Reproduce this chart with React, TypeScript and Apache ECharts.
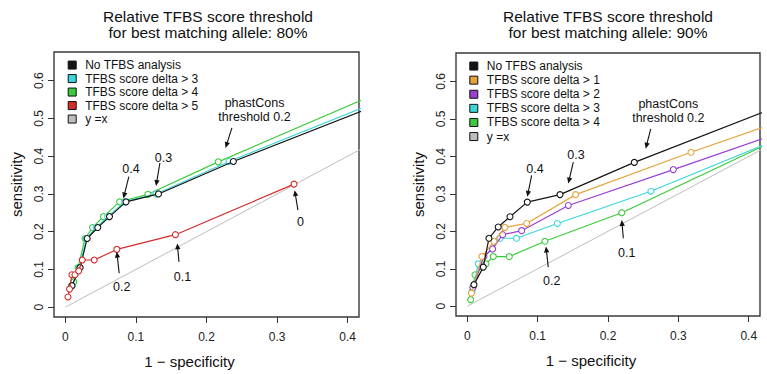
import { useEffect, useRef } from "react";
import * as echarts from "echarts";

type Pt = [number, number];

const FONT = "'Liberation Sans', Arial, Helvetica, sans-serif";

// Axis ticks shared by both panels
const X_TICKS = [0, 0.1, 0.2, 0.3, 0.4];
const Y_TICKS = [0, 0.1, 0.2, 0.3, 0.4, 0.5, 0.6];

const TITLE_80 = "Relative TFBS score threshold\nfor best matching allele: 80%";
const TITLE_90 = "Relative TFBS score threshold\nfor best matching allele: 90%";
const X_NAME = "1 \u2212 specificity";
const Y_NAME = "sensitivity";

// Series names
const S_NONE = "No TFBS analysis";
const S_D1 = "TFBS score delta > 1";
const S_D2 = "TFBS score delta > 2";
const S_D3 = "TFBS score delta > 3";
const S_D4 = "TFBS score delta > 4";
const S_D5 = "TFBS score delta > 5";
const S_DIAG = "y =x";

const COLORS: Record<string, string> = {
  [S_NONE]: "#151515",
  [S_D1]: "#e6a33c",
  [S_D2]: "#9b3fd2",
  [S_D3]: "#3ad6dc",
  [S_D4]: "#3ccb3c",
  [S_D5]: "#d42b2b",
  [S_DIAG]: "#bdbdbd",
};

// Panel 1: best matching allele threshold 80% — [1 - specificity, sensitivity]
const p80None: Pt[] = [
  [0.0094, 0.057], [0.021, 0.105], [0.031, 0.182], [0.046, 0.211], [0.0626, 0.24],
  [0.086, 0.279], [0.132, 0.3], [0.238, 0.386], [0.5, 0.578],
];
const p80Delta3: Pt[] = [
  [0.0094, 0.057], [0.02, 0.105], [0.03, 0.182], [0.044, 0.211], [0.06, 0.24],
  [0.084, 0.279], [0.1285, 0.3], [0.232, 0.386], [0.5, 0.588],
];
const p80Delta4: Pt[] = [
  [0.0094, 0.056], [0.012, 0.067], [0.018, 0.105], [0.028, 0.182], [0.0386, 0.211],
  [0.054, 0.24], [0.077, 0.279], [0.117, 0.299], [0.2166, 0.385], [0.5, 0.613],
];
const p80Delta5: Pt[] = [
  [0.0038, 0.027], [0.006, 0.048], [0.0094, 0.086], [0.0137, 0.086], [0.019, 0.096],
  [0.024, 0.125], [0.041, 0.125], [0.073, 0.153], [0.156, 0.192], [0.324, 0.326],
];

// Panel 2: best matching allele threshold 90%
const p90None: Pt[] = [
  [0.0095, 0.0576], [0.0228, 0.1045], [0.0308, 0.1815], [0.044, 0.2116], [0.0607, 0.239],
  [0.0853, 0.278], [0.1318, 0.298], [0.2374, 0.384], [0.5, 0.576],
];
const p90Delta1: Pt[] = [
  [0.006, 0.035], [0.0209, 0.1327], [0.038, 0.1735], [0.0536, 0.2107], [0.0844, 0.221],
  [0.154, 0.298], [0.318, 0.411], [0.5, 0.53],
];
const p90Delta2: Pt[] = [
  [0.008, 0.05], [0.0237, 0.1327], [0.036, 0.153], [0.0503, 0.191], [0.0773, 0.2018],
  [0.1436, 0.269], [0.2928, 0.3648], [0.5, 0.5],
];
const p90Delta3: Pt[] = [
  [0.007, 0.04], [0.0157, 0.1133], [0.0465, 0.1815], [0.07, 0.1815], [0.128, 0.221],
  [0.261, 0.307], [0.5, 0.491],
];
const p90Delta4: Pt[] = [
  [0.0048, 0.0178], [0.0085, 0.053], [0.011, 0.084], [0.0266, 0.1133], [0.037, 0.1327],
  [0.0597, 0.1327], [0.1104, 0.1735], [0.2195, 0.2497], [0.5, 0.498],
];

const diagonal: Pt[] = [[0, 0], [0.5, 0.5]];

// phastCons threshold annotations: label position, arrow start, arrow tip
type Note = { text: string; at: Pt; from: Pt; to: Pt };
const notes80: Note[] = [
  { text: "phastCons\nthreshold 0.2", at: [0.268, 0.523], from: [0.236, 0.475], to: [0.227, 0.422] },
  { text: "0.3", at: [0.139, 0.394], from: [0.134, 0.382], to: [0.1285, 0.321] },
  { text: "0.4", at: [0.093, 0.365], from: [0.09, 0.346], to: [0.0823, 0.288] },
  { text: "0.2", at: [0.08, 0.054], from: [0.0763, 0.09], to: [0.073, 0.147] },
  { text: "0.1", at: [0.166, 0.08], from: [0.161, 0.12], to: [0.1586, 0.169] },
  { text: "0", at: [0.333, 0.226], from: [0.3295, 0.257], to: [0.3249, 0.31] },
];
const notes90: Note[] = [
  { text: "phastCons\nthreshold 0.2", at: [0.2857, 0.522], from: [0.2607, 0.4736], to: [0.2536, 0.4205] },
  { text: "0.3", at: [0.1545, 0.4027], from: [0.1507, 0.385], to: [0.1436, 0.3276] },
  { text: "0.4", at: [0.0962, 0.3674], from: [0.0915, 0.3496], to: [0.0853, 0.292] },
  { text: "0.2", at: [0.12, 0.0664], from: [0.1151, 0.1046], to: [0.1119, 0.1593] },
  { text: "0.1", at: [0.2266, 0.1418], from: [0.2218, 0.1816], to: [0.2195, 0.2302] },
];

const LEGEND_80 = [S_NONE, S_D3, S_D4, S_D5, S_DIAG];
const LEGEND_90 = [S_NONE, S_D1, S_D2, S_D3, S_D4, S_DIAG];

const fmt = (v: number) => (v === 0 ? "0" : String(+v.toFixed(1)));

function curve(name: string, data: Pt[], idx: number, z: number) {
  const color = COLORS[name];
  return {
    type: "line",
    name,
    xAxisIndex: idx,
    yAxisIndex: idx,
    data,
    symbol: "circle",
    symbolSize: 6,
    showSymbol: true,
    clip: true,
    silent: true,
    z,
    itemStyle: { color: "#ffffff", borderColor: color, borderWidth: 1.1 },
    lineStyle: { color, width: 1.2 },
  };
}

function diag(idx: number) {
  return {
    type: "line",
    name: S_DIAG,
    xAxisIndex: idx,
    yAxisIndex: idx,
    data: diagonal,
    symbol: "none",
    clip: true,
    silent: true,
    z: 1,
    itemStyle: { color: COLORS[S_DIAG] },
    lineStyle: { color: COLORS[S_DIAG], width: 1 },
  };
}

function annotations(notes: Note[], idx: number) {
  return {
    type: "custom",
    xAxisIndex: idx,
    yAxisIndex: idx,
    silent: true,
    z: 20,
    data: notes.map((n) => [n.at[0], n.at[1], n.from[0], n.from[1], n.to[0], n.to[1]]),
    renderItem: (params: any, api: any) => {
      const note = notes[params.dataIndex];
      const t = api.coord([api.value(0), api.value(1)]);
      const s = api.coord([api.value(2), api.value(3)]);
      const e = api.coord([api.value(4), api.value(5)]);
      const ang = Math.atan2(e[1] - s[1], e[0] - s[0]);
      const head = 6.5;
      const spread = 0.42;
      const p1 = [e[0] - head * Math.cos(ang - spread), e[1] - head * Math.sin(ang - spread)];
      const p2 = [e[0] - head * Math.cos(ang + spread), e[1] - head * Math.sin(ang + spread)];
      const shaft = [e[0] - head * 0.8 * Math.cos(ang), e[1] - head * 0.8 * Math.sin(ang)];
      return {
        type: "group",
        children: [
          {
            type: "text",
            style: {
              text: note.text,
              x: t[0],
              y: t[1],
              align: "center",
              verticalAlign: "middle",
              fontSize: 12.5,
              lineHeight: 14,
              fontFamily: FONT,
              fill: "#111",
            },
          },
          {
            type: "line",
            shape: { x1: s[0], y1: s[1], x2: shaft[0], y2: shaft[1] },
            style: { stroke: "#111", lineWidth: 1.1 },
          },
          {
            type: "polygon",
            shape: { points: [e, p1, p2] },
            style: { fill: "#111" },
          },
        ],
      };
    },
  };
}

function xAxis(idx: number) {
  return {
    type: "value",
    gridIndex: idx,
    min: -0.016,
    max: 0.416,
    name: X_NAME,
    nameLocation: "middle",
    nameGap: 37,
    nameTextStyle: { fontSize: 15, color: "#111", fontFamily: FONT, padding: [0, 34, 0, 0] },
    splitLine: { show: false },
    axisLine: { show: false, onZero: false },
    axisTick: { show: true, inside: false, length: 6, customValues: X_TICKS, lineStyle: { color: "#333", width: 1 } },
    axisLabel: { customValues: X_TICKS, margin: 14, fontSize: 12, color: "#222", fontFamily: FONT, formatter: fmt },
  };
}

function yAxis(idx: number) {
  return {
    type: "value",
    gridIndex: idx,
    min: -0.026,
    max: 0.676,
    name: Y_NAME,
    nameLocation: "middle",
    nameGap: 30,
    nameTextStyle: { fontSize: 15, color: "#111", fontFamily: FONT },
    splitLine: { show: false },
    axisLine: { show: false, onZero: false },
    axisTick: { show: true, inside: false, length: 6, customValues: Y_TICKS, lineStyle: { color: "#333", width: 1 } },
    axisLabel: { customValues: Y_TICKS, rotate: 90, margin: 9, fontSize: 12, color: "#222", fontFamily: FONT, formatter: fmt },
  };
}

function legend(names: string[], left: number, top: number, lineHeight: number) {
  return {
    orient: "vertical",
    left,
    top,
    padding: 0,
    itemGap: 0,
    itemWidth: 8,
    itemHeight: 8,
    icon: "rect",
    selectedMode: false,
    textStyle: { fontSize: 12, color: "#111", fontFamily: FONT, lineHeight, padding: [0, 0, 0, 4] },
    data: names.map((n) => ({
      name: n,
      icon: "rect",
      itemStyle: { color: COLORS[n], borderColor: "#111", borderWidth: 1 },
    })),
  };
}

const titleStyle = { fontSize: 15.5, fontWeight: "normal", color: "#111", lineHeight: 16, fontFamily: FONT };

export default function App() {
  const ref = useRef<HTMLDivElement>(null);

  useEffect(() => {
    if (!ref.current) return;
    const chart = echarts.init(ref.current, null, { renderer: "svg" });
    chart.setOption({
      animation: false,
      backgroundColor: "#ffffff",
      textStyle: { fontFamily: FONT },
      title: [
        { text: TITLE_80, left: 208, top: 8, textAlign: "center", padding: 0, textStyle: titleStyle },
        { text: TITLE_90, left: 608, top: 8, textAlign: "center", padding: 0, textStyle: titleStyle },
      ],
      grid: [
        { left: 54, top: 52, width: 305, height: 265, show: true, borderColor: "#3a3a3a", borderWidth: 1.4, backgroundColor: "transparent" },
        { left: 456, top: 53, width: 304, height: 263, show: true, borderColor: "#3a3a3a", borderWidth: 1.4, backgroundColor: "transparent" },
      ],
      xAxis: [xAxis(0), xAxis(1)],
      yAxis: [yAxis(0), yAxis(1)],
      legend: [legend(LEGEND_80, 67.7, 58.3, 13.5), legend(LEGEND_90, 469.3, 59, 14.1)],
      series: [
        diag(0),
        curve(S_D4, p80Delta4, 0, 3),
        curve(S_D3, p80Delta3, 0, 4),
        curve(S_NONE, p80None, 0, 5),
        curve(S_D5, p80Delta5, 0, 6),
        annotations(notes80, 0),
        diag(1),
        curve(S_D4, p90Delta4, 1, 3),
        curve(S_D3, p90Delta3, 1, 4),
        curve(S_D2, p90Delta2, 1, 5),
        curve(S_D1, p90Delta1, 1, 6),
        curve(S_NONE, p90None, 1, 7),
        annotations(notes90, 1),
      ],
    });
    return () => chart.dispose();
  }, []);

  return (
    <div
      ref={ref}
      style={{ position: "absolute", left: 0, top: 0, width: 767, height: 374, background: "#fff" }}
    />
  );
}
